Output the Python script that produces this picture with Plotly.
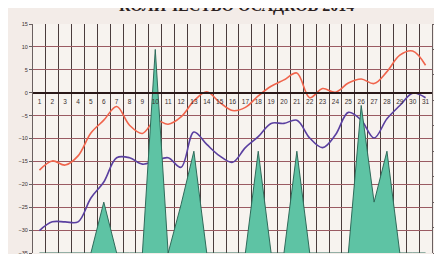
import plotly.graph_objects as go

days = [str(d) for d in range(1, 32)]
red_temp = [-16.9, -14.9, -15.8, -13.8, -8.8, -6.0, -3.0, -7.1, -8.9, -6.0,
            -6.9, -5.3, -1.8, 0.2, -2.1, -3.9, -3.2, -0.7, 1.4, 2.8,
            4.3, -1.1, 0.9, 0.1, 2.1, 3.0, 2.0, 4.6, 8.2, 9.1, 6.0]
blue_temp = [-30.1, -28.2, -28.2, -28.2, -23.0, -19.5, -14.2, -14.2, -15.6, -14.9,
             -14.2, -16.3, -8.6, -11.3, -13.8, -15.2, -12.0, -9.6, -6.7, -6.7,
             -6.0, -9.9, -12.0, -9.2, -4.3, -6.0, -9.9, -5.7, -2.8, -0.1, -1.1]
precip = [0, 0, 0, 0, 0, 1.0, 0, 0, 0, 4.0,
          0, 0.95, 2.0, 0, 0, 0, 0, 2.0, 0, 0,
          2.0, 0, 0, 0, 0, 2.9, 1.0, 2.0, 0, 0, 0]
title_text = "КОЛИЧЕСТВО ОСАДКОВ 2014"

fig = go.Figure()
fig.add_trace(go.Scatter(x=days, y=precip, yaxis="y2", mode="lines",
                         line=dict(color="#2f6a5a", width=1, shape="linear"),
                         fill="tozeroy", fillcolor="#5ec3a4", showlegend=False))
fig.add_trace(go.Scatter(x=days, y=red_temp, mode="lines",
                         line=dict(color="#f0644c", width=1.6, shape="spline", smoothing=1),
                         showlegend=False))
fig.add_trace(go.Scatter(x=days, y=blue_temp, mode="lines",
                         line=dict(color="#5a3fa0", width=1.6, shape="spline", smoothing=1),
                         showlegend=False))

fig.add_annotation(text=title_text, xref="paper", yref="paper", x=0.51, y=1.08,
                   xanchor="center", yanchor="middle", showarrow=False,
                   font=dict(size=16, family="Liberation Serif, serif", color="#2a2020",
                             weight="bold"))

fig.update_layout(
    width=442, height=254,
    margin=dict(l=25, r=17, t=16, b=6),
    paper_bgcolor="#f3ece8",
    plot_bgcolor="#f7f3ef",
    font=dict(family="Liberation Sans, Arial, sans-serif", color="#3a3030"),
    xaxis=dict(type="category", categoryorder="array", categoryarray=days,
               range=[-0.5, 30.5], anchor="free", position=0.7,
               tickson="boundaries", showgrid=True, gridcolor="#4a3c3c", gridwidth=1.3,
               showline=True, linecolor="#2a1818", linewidth=2,
               ticks="", tickangle=0, tickfont=dict(size=6.5, color="#3a3030"),
               ticklabelstandoff=2),
    yaxis=dict(range=[-35, 15], dtick=5, showgrid=True, gridcolor="#9a5a62", gridwidth=1.3,
               zeroline=False, showline=True, linecolor="#6a6060", linewidth=1,
               ticks="outside", ticklen=3, tickcolor="#6a6060",
               tickfont=dict(size=5.5, color="#3a3030")),
    yaxis2=dict(range=[0, 4.5], dtick=0.5, overlaying="y", side="right", showgrid=False,
                zeroline=False, showline=True, linecolor="#6a6060", linewidth=1,
                ticks="outside", ticklen=2, tickcolor="#6a6060", ticklabelstandoff=0,
                tickfont=dict(size=5.5, color="#3a3030")),
)

fig.write_html("out.html")
